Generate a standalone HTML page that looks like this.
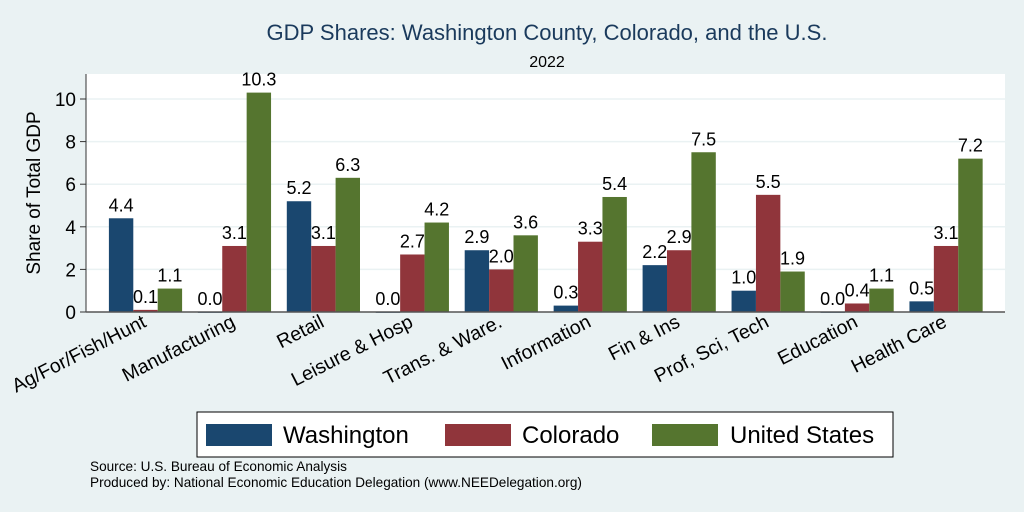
<!DOCTYPE html>
<html><head><meta charset="utf-8"><style>
body{margin:0;background:#eaf2f3;font-family:"Liberation Sans",Arial,sans-serif}
svg{display:block}
</style></head><body>
<svg id="chart" width="1024" height="512">
<rect width="1024" height="512" fill="#eaf2f3"/>
<text x="547" y="40" font-size="22" fill="#1a3a5c" text-anchor="middle">GDP Shares: Washington County, Colorado, and the U.S.</text>
<text x="547" y="67" font-size="16" fill="#000" text-anchor="middle">2022</text>
<rect x="86" y="74" width="919" height="238" fill="#fff"/>
<g id="grid"></g>
<g id="bars"></g>
<g id="labels"></g>
<line x1="86" y1="74" x2="86" y2="312" stroke="#333" stroke-width="1"/>
<line x1="86" y1="312" x2="1005" y2="312" stroke="#555" stroke-width="1.5"/>
<text transform="translate(40,193) rotate(-90)" font-size="19" text-anchor="middle">Share of Total GDP</text>
<g>
<rect x="197" y="412" width="696" height="45" fill="#fff" stroke="#000" stroke-width="1"/>
<rect x="206" y="424" width="66" height="22" fill="#1a476f"/>
<text x="283" y="443" font-size="24">Washington</text>
<rect x="445" y="424" width="66" height="22" fill="#90353b"/>
<text x="522" y="443" font-size="24">Colorado</text>
<rect x="652" y="424" width="66" height="22" fill="#55752f"/>
<text x="730" y="443" font-size="24">United States</text>
</g>
<text x="90" y="471" font-size="13.6">Source: U.S. Bureau of Economic Analysis</text>
<text x="90" y="487" font-size="13.6">Produced by: National Economic Education Delegation (www.NEEDelegation.org)</text>
</svg>
<script>
const categories=["Ag/For/Fish/Hunt","Manufacturing","Retail","Leisure & Hosp","Trans. & Ware.","Information","Fin & Ins","Prof, Sci, Tech","Education","Health Care"];
const washington=[4.4,0.0,5.2,0.0,2.9,0.3,2.2,1.0,0.0,0.5];
const colorado=[0.1,3.1,3.1,2.7,2.0,3.3,2.9,5.5,0.4,3.1];
const unitedStates=[1.1,10.3,6.3,4.2,3.6,5.4,7.5,1.9,1.1,7.2];
const yTicks=[0,2,4,6,8,10];
const NS="http://www.w3.org/2000/svg";
const y0=312,pxPer=21.3,gx0=145.5,gstep=88.95,bw=24.4;
const yScale=v=>y0-v*pxPer;
const xCenter=i=>gx0+i*gstep;
function mk(tag,attrs,parent){const e=document.createElementNS(NS,tag);for(const k in attrs)e.setAttribute(k,attrs[k]);parent.appendChild(e);return e;}
const grid=document.getElementById('grid'),bars=document.getElementById('bars'),labels=document.getElementById('labels');
yTicks.forEach(t=>{
  const y=yScale(t);
  if(t>0){const g=mk('line',{x1:86,x2:1005,y1:y,y2:y,stroke:'#eaf2f3','stroke-width':1.5},grid);
  
  }
  const tk=mk('line',{x1:80,x2:86,y1:y,y2:y,stroke:'#333'},grid);
  
  
  const tx=mk('text',{x:76,y:y+7,'font-size':19,'text-anchor':'end'},grid);
  tx.textContent=t;
  
  
});
const series=[[washington,'#1a476f','washington'],[colorado,'#90353b','colorado'],[unitedStates,'#55752f','us']];
categories.forEach((c,i)=>{
  series.forEach(([vals,col,nm],s)=>{
    const x=xCenter(i)+(s-1.5)*bw, v=vals[i], y=yScale(v);
    const r=mk('rect',{x:x,y:y,width:bw,height:Math.max(y0-y,0.8),fill:col},bars);
    
    
    const t=mk('text',{x:x+bw/2,y:y-7,'font-size':18,'text-anchor':'middle'},labels);
    t.textContent=v.toFixed(1);
    
    
  });
  const cl=mk('text',{'font-size':19.5,'text-anchor':'end',transform:`translate(${xCenter(i)+2},${326}) rotate(-27)`},labels);
  cl.textContent=c;
  
  
});
</script>
</body></html>
